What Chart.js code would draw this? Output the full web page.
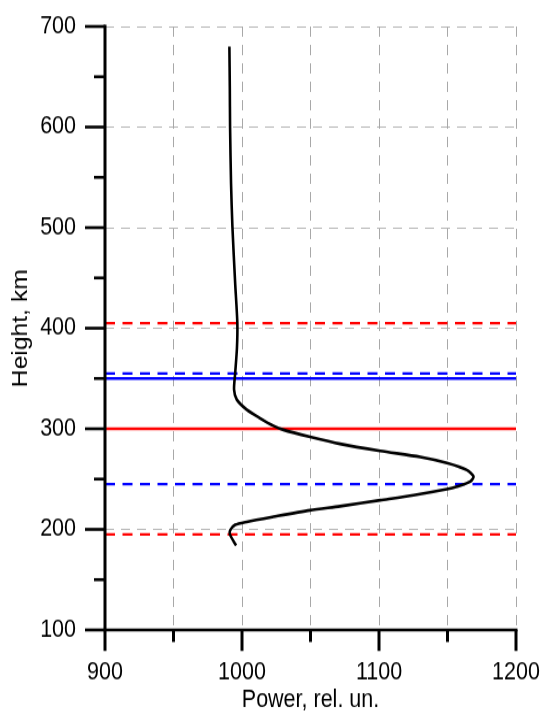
<!DOCTYPE html>
<html>
<head>
<meta charset="utf-8">
<title>Power profile</title>
<script src="https://cdn.jsdelivr.net/npm/chart.js@4/dist/chart.umd.min.js"></script>
<style>
  html, body { margin: 0; padding: 0; background: #fff; }
  #profile { display: block; }
</style>
</head>
<body>
<!-- canvas is drawn 622 tall and shown 715 tall: the original figure is stretched vertically -->
<canvas id="profile" width="543" height="622" style="width:543px;height:715px"></canvas>
<script>
// Power profile (rel. un.) against height (km)
const curveHeight = [680, 640, 600, 544, 501, 445, 405, 380, 355, 339, 329, 319, 310.5, 303, 299, 292, 285, 278, 272, 266, 259, 252.5, 247.5, 242.5, 240, 234, 229, 223, 219, 212.5, 207.5, 204.5, 199, 194.5, 184];
const curvePower  = [990.8, 991.1, 991.3, 992, 993, 995, 996.6, 996.3, 995, 994.2, 996.2, 1003.5, 1013.2, 1022.9, 1030.2, 1049.7, 1071.6, 1100.9, 1130.1, 1149.6, 1164.2, 1169, 1166.6, 1156.9, 1149.6, 1125.2, 1100.9, 1071.6, 1049.7, 1022.9, 1003.5, 995, 991.3, 991.3, 995.7];

// Horizontal marker lines (km)
const markerHeights = [405, 355, 350, 300, 245, 195];

// Axis ranges and tick labels
const powerTicks  = [900, 1000, 1100, 1200];
const heightTicks = [100, 200, 300, 400, 500, 600, 700];

const STRETCH = 715 / 622;
const markerStyles = [
    { color: '#ff0000', dash: [10, 7.5] },
    { color: '#0000ff', dash: [10, 7.5] },
    { color: '#0000ff', dash: [] },
    { color: '#ff0000', dash: [] },
    { color: '#0000ff', dash: [10, 7.5] },
    { color: '#ff0000', dash: [10, 7.5] }
];

const FONT = { family: '"Liberation Sans", Arial, sans-serif', size: 21.5 };
const GRID = '#a8a8a8';

// fixed box size, and no extra room for edge labels (layout padding handles that)
function pinScale(s, size) {
    if (s.isHorizontal()) s.height = size; else s.width = size;
    s.paddingTop = s.paddingBottom = s.paddingLeft = s.paddingRight = 0;
}

// Black frame with long major ticks and short minor ticks
const axesPlugin = {
    id: 'axes',
    afterDatasetsDraw(chart) {
        const { ctx, scales: { x, y } } = chart;
        const x0 = x.getPixelForValue(900), x1 = x.getPixelForValue(1200);
        const yb = y.getPixelForValue(100), yt = y.getPixelForValue(700);
        const vw = 3, hw = 3 / STRETCH;
        ctx.save();
        ctx.strokeStyle = '#000';
        ctx.lineCap = 'butt';

        function seg(ax, ay, bx, by, w) {
            ctx.lineWidth = w;
            ctx.beginPath();
            ctx.moveTo(ax, ay);
            ctx.lineTo(bx, by);
            ctx.stroke();
        }
        seg(x0, yt - 1.5, x0, yb, vw);
        seg(x0 - 1.5, yb, x1 + 1.5, yb, hw);

        for (let v = 100; v <= 700; v += 50) {
            const py = y.getPixelForValue(v);
            seg(x0 - (v % 100 === 0 ? 20 : 11), py, x0, py, hw);
        }
        for (let v = 900; v <= 1200; v += 50) {
            const px = x.getPixelForValue(v);
            seg(px, yb, px, yb + (v % 100 === 0 ? 21 : 12) / STRETCH, vw);
        }
        ctx.restore();
    }
};

const datasets = [{
    data: curveHeight.map((h, i) => ({ x: curvePower[i], y: h })),
    borderColor: '#000',
    borderWidth: 2.6,
    tension: 0.25,
    pointRadius: 0
}];
markerHeights.forEach((h, i) => {
    const s = markerStyles[i];
    datasets.push({
        data: [{ x: 900, y: h }, { x: 1200, y: h }],
        borderColor: s.color,
        borderDash: s.dash,
        borderWidth: 2.7 / STRETCH,
        pointRadius: 0
    });
});

const chart = new Chart(document.getElementById('profile'), {
    type: 'scatter',
    data: { datasets: datasets },
    options: {
        responsive: false,
        animation: false,
        showLine: true,
        layout: { padding: { top: 23, right: 27, left: 0, bottom: 0 } },
        plugins: { legend: { display: false }, tooltip: { enabled: false } },
        scales: {
            x: {
                type: 'linear',
                min: 900,
                max: 1200,
                afterFit: (s) => pinScale(s, 74),
                afterBuildTicks: (s) => {
                    const t = [];
                    for (let v = 900; v <= 1200; v += 50) t.push({ value: v });
                    s.ticks = t;
                },
                ticks: {
                    color: '#000',
                    font: FONT,
                    padding: 24.5,
                    maxRotation: 0,
                    autoSkip: false,
                    callback: (v) => powerTicks.includes(v) ? String(v) : ''
                },
                grid: {
                    drawTicks: false,
                    color: (c) => c.tick && c.tick.value === 900 ? 'rgba(0,0,0,0)' : GRID,
                    lineWidth: 1
                },
                border: { display: false, dash: [9, 7] },
                title: {
                    display: true,
                    text: 'Power, rel. un.',
                    color: '#000',
                    font: FONT,
                    padding: { top: 0, bottom: 0 }
                }
            },
            y: {
                type: 'linear',
                min: 100,
                max: 700,
                afterFit: (s) => pinScale(s, 105),
                afterBuildTicks: (s) => { s.ticks = heightTicks.map(v => ({ value: v })); },
                ticks: {
                    color: '#000',
                    font: FONT,
                    padding: 29,
                    autoSkip: false
                },
                grid: {
                    drawTicks: false,
                    color: (c) => c.tick && c.tick.value === 100 ? 'rgba(0,0,0,0)' : GRID,
                    lineWidth: 1 / STRETCH
                },
                border: { display: false, dash: [9, 7] },
                title: {
                    display: true,
                    text: 'Height, km',
                    color: '#000',
                    font: FONT,
                    padding: { top: 8, bottom: 0 }
                }
            }
        }
    },
    plugins: [axesPlugin]
});
</script>
</body>
</html>
